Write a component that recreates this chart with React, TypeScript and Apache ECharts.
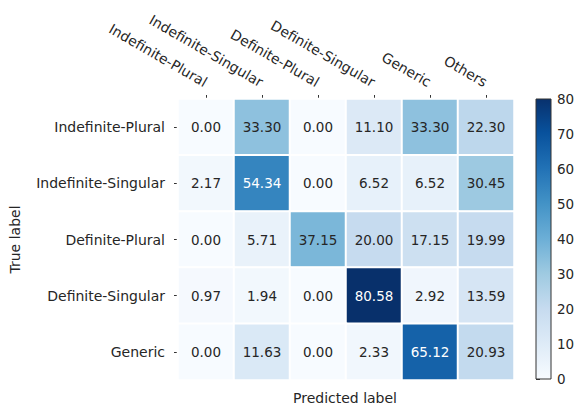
import React, { useEffect, useRef } from "react";
import * as echarts from "echarts";

const predictedLabels = ["Indefinite-Plural", "Indefinite-Singular", "Definite-Plural", "Definite-Singular", "Generic", "Others"];
const trueLabels = ["Indefinite-Plural", "Indefinite-Singular", "Definite-Plural", "Definite-Singular", "Generic"];
const rowIndefinitePlural = [0.0, 33.3, 0.0, 11.1, 33.3, 22.3];
const rowIndefiniteSingular = [2.17, 54.34, 0.0, 6.52, 6.52, 30.45];
const rowDefinitePlural = [0.0, 5.71, 37.15, 20.0, 17.15, 19.99];
const rowDefiniteSingular = [0.97, 1.94, 0.0, 80.58, 2.92, 13.59];
const rowGeneric = [0.0, 11.63, 0.0, 2.33, 65.12, 20.93];
const matrix = [rowIndefinitePlural, rowIndefiniteSingular, rowDefinitePlural, rowDefiniteSingular, rowGeneric];
const colorbarTicks = [0, 10, 20, 30, 40, 50, 60, 70, 80];

const BLUES = ["#f7fbff", "#deebf7", "#c6dbef", "#9ecae1", "#6baed6", "#4292c6", "#2171b5", "#08519c", "#08306b"];
const FONT = "DejaVu Sans";
const TXT = "#262626";
const FS = 13.5;
const AFS = 14;

export default function App() {
  const ref = useRef<HTMLDivElement>(null);
  useEffect(() => {
    document.body.style.margin = "0";
    const chart = echarts.init(ref.current!, null, { renderer: "svg" });
    const vmin = 0;
    const vmax = 80.58;
    const data: any[] = [];
    matrix.forEach((row, r) =>
      row.forEach((v, c) => {
        data.push({
          value: [c, r, v],
          label: { color: v > 45 ? "#ffffff" : TXT },
        });
      })
    );
    const cbLeft = 536, cbTop = 99, cbW = 15, cbH = 280;
    chart.setOption({
      animation: false,
      textStyle: { fontFamily: FONT },
      grid: [
        { left: 176, top: 99, width: 338, height: 281 },
        { left: cbLeft, top: cbTop, width: cbW, height: cbH, show: false },
      ],
      xAxis: [
        {
          type: "category",
          data: predictedLabels,
          position: "top",
          gridIndex: 0,
          axisLine: { show: false },
          axisTick: { show: true, alignWithLabel: true, length: 4, lineStyle: { color: "#333" } },
          axisLabel: { rotate: 30, align: "right", verticalAlign: "middle", margin: 16, fontSize: AFS, color: TXT, fontFamily: FONT },
          splitLine: { show: false },
        },
        { type: "value", gridIndex: 1, show: false, min: 0, max: 1 },
      ],
      yAxis: [
        {
          type: "category",
          data: trueLabels,
          inverse: true,
          gridIndex: 0,
          axisLine: { show: false },
          axisTick: { show: true, alignWithLabel: true, length: 4, lineStyle: { color: "#333" } },
          axisLabel: { margin: 13, fontSize: AFS, color: TXT, fontFamily: FONT },
          name: "True label",
          nameLocation: "middle",
          nameRotate: 90,
          nameGap: 156,
          nameTextStyle: { fontSize: AFS, color: TXT, fontFamily: FONT },
        },
        {
          type: "value",
          gridIndex: 1,
          position: "right",
          min: colorbarTicks[0],
          max: colorbarTicks[colorbarTicks.length - 1],
          interval: 10,
          axisLine: { show: false },
          axisTick: { show: true, length: 4, lineStyle: { color: "#333" } },
          axisLabel: { margin: 6, fontSize: FS, color: TXT, fontFamily: FONT },
          splitLine: { show: false },
        },
      ],
      visualMap: {
        show: false,
        min: vmin,
        max: vmax,
        seriesIndex: 0,
        inRange: { color: BLUES },
      },
      graphic: [
        {
          type: "rect",
          shape: { x: cbLeft, y: cbTop, width: cbW, height: cbH },
          style: {
            fill: new echarts.graphic.LinearGradient(
              0, 1, 0, 0,
              BLUES.map((c, i) => ({ offset: ((i / (BLUES.length - 1)) * vmax) / 80, color: c })).filter((s) => s.offset <= 1)
                .concat([{ offset: 1, color: "#08316d" }])
            ),
            stroke: "#333",
            lineWidth: 1,
          },
          z: 10,
        },
        {
          type: "text",
          x: 345,
          y: 398,
          style: { text: "Predicted label", fontSize: AFS, fill: TXT, fontFamily: FONT, align: "center", verticalAlign: "middle" },
        },
      ],
      series: [
        {
          type: "heatmap",
          xAxisIndex: 0,
          yAxisIndex: 0,
          data,
          label: {
            show: true,
            fontSize: FS,
            fontFamily: FONT,
            formatter: (p: any) => p.value[2].toFixed(2),
          },
          itemStyle: { borderColor: "#ffffff", borderWidth: 2 },
          emphasis: { disabled: true },
        },
      ],
    });
    return () => chart.dispose();
  }, []);
  return <div ref={ref} style={{ width: 580, height: 407 }} />;
}
